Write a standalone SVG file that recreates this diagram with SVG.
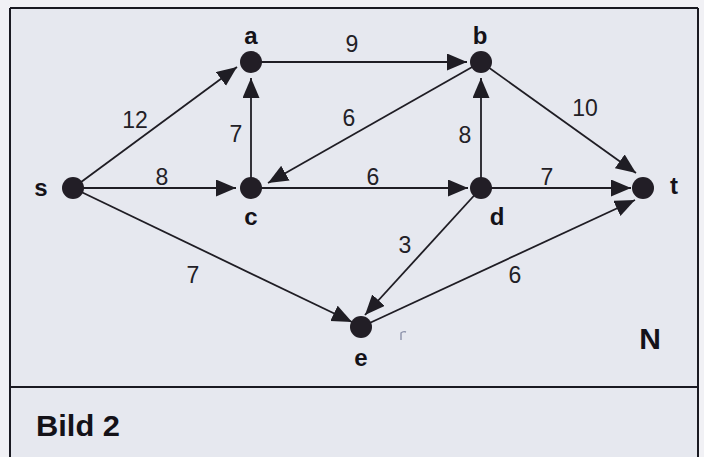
<svg xmlns="http://www.w3.org/2000/svg" width="704" height="457" viewBox="0 0 704 457">
<defs>
<style>
.edge{stroke:#1f1d24;stroke-width:1.8;fill:none;marker-end:url(#arr)}
.node{fill:#221e26}
.lbl{font-family:"Liberation Sans",Arial,sans-serif;font-weight:bold;font-size:24px;fill:#141218;text-anchor:middle}
.w{font-family:"Liberation Sans",Arial,sans-serif;font-size:23px;fill:#222026;text-anchor:middle}
.frame{stroke:#1a1a22;stroke-width:2;fill:none}
</style>
<marker id="arr" markerUnits="userSpaceOnUse" markerWidth="22" markerHeight="18" refX="20" refY="8.5" orient="auto">
<path d="M0,0 L20,8.5 L0,17 z" fill="#1f1d24"/>
</marker>
</defs>
<rect x="0" y="0" width="704" height="457" fill="#f1f1f5"/>
<rect x="10" y="8" width="688" height="460" fill="#e6e8ef"/>
<g id="frame">
<line class="frame" x1="10" y1="8" x2="698" y2="8"/>
<line class="frame" x1="10" y1="8" x2="10" y2="457"/>
<line class="frame" x1="698" y1="8" x2="698" y2="457"/>
<line class="frame" x1="10" y1="387" x2="698" y2="387"/>
</g>
<g id="connectors">
<line class="edge" x1="73" y1="188" x2="237" y2="67"/>
<line class="edge" x1="251" y1="62" x2="467" y2="62"/>
<line class="edge" x1="251" y1="188" x2="251" y2="78"/>
<line class="edge" x1="481" y1="62" x2="268" y2="183"/>
<line class="edge" x1="73" y1="188" x2="236" y2="188"/>
<line class="edge" x1="251" y1="188" x2="468" y2="188"/>
<line class="edge" x1="481" y1="188" x2="481" y2="78"/>
<line class="edge" x1="481" y1="62" x2="636" y2="173"/>
<line class="edge" x1="481" y1="188" x2="631" y2="188"/>
<line class="edge" x1="361" y1="327" x2="635" y2="200"/>
<line class="edge" x1="73" y1="188" x2="352" y2="322"/>
<line class="edge" x1="481" y1="188" x2="365" y2="315"/>
</g>
<g id="weights">
<text class="w" x="352" y="52">9</text>
<text class="w" x="135" y="128">12</text>
<text class="w" x="236" y="142">7</text>
<text class="w" x="349" y="126">6</text>
<text class="w" x="465" y="143">8</text>
<text class="w" x="585" y="116">10</text>
<text class="w" x="162" y="185">8</text>
<text class="w" x="373" y="185">6</text>
<text class="w" x="547" y="185">7</text>
<text class="w" x="405" y="253">3</text>
<text class="w" x="193" y="283">7</text>
<text class="w" x="515" y="283">6</text>
</g>
<g id="node-s"><circle class="node" cx="73" cy="188" r="11"/><text class="lbl" x="41" y="196">s</text></g>
<g id="node-a"><circle class="node" cx="251" cy="62" r="11"/><text class="lbl" x="251" y="44">a</text></g>
<g id="node-b"><circle class="node" cx="481" cy="62" r="11"/><text class="lbl" x="480" y="44">b</text></g>
<g id="node-c"><circle class="node" cx="251" cy="188" r="11"/><text class="lbl" x="251" y="225">c</text></g>
<g id="node-d"><circle class="node" cx="481" cy="188" r="11"/><text class="lbl" x="497" y="225">d</text></g>
<g id="node-t"><circle class="node" cx="643" cy="188" r="11"/><text class="lbl" x="674" y="194">t</text></g>
<g id="node-e"><circle class="node" cx="361" cy="327" r="11"/><text class="lbl" x="361" y="366">e</text></g>
<path d="M401,340 L401,333 Q403,331 406,332" stroke="#8c92aa" stroke-width="1.4" fill="none"/>
<text x="650" y="349" font-family="Liberation Sans,Arial,sans-serif" font-weight="bold" font-size="30" fill="#141218" text-anchor="middle">N</text>
<text x="36" y="436" font-family="Liberation Sans,Arial,sans-serif" font-weight="bold" font-size="29" fill="#141218" textLength="84" lengthAdjust="spacingAndGlyphs">Bild 2</text>
</svg>
